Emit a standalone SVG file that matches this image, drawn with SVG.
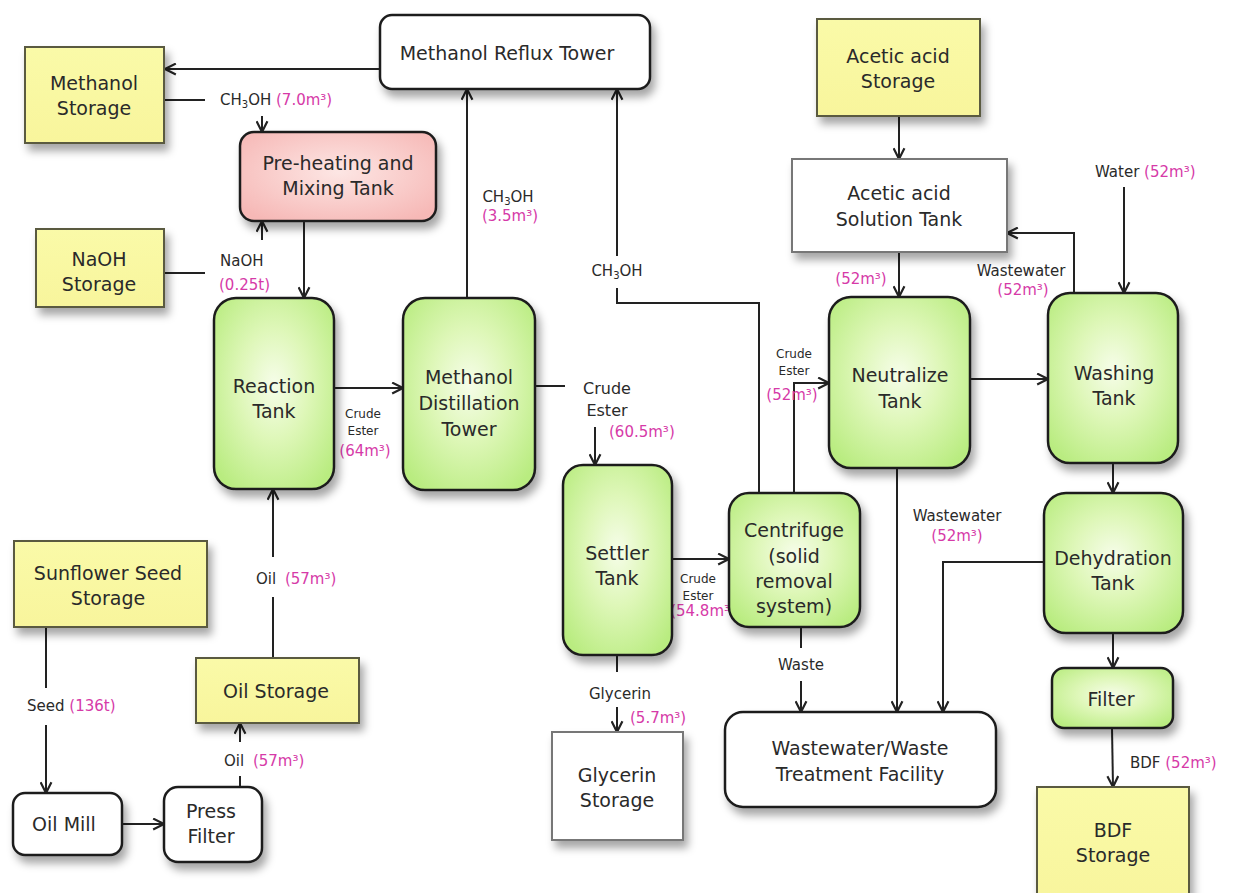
<svg xmlns="http://www.w3.org/2000/svg" width="1237" height="893" viewBox="0 0 1237 893">
<defs>
<style>
text{font-family:"DejaVu Sans","Liberation Sans",sans-serif;fill:#2a2a2a;text-anchor:middle}
.n{font-size:19px}
.l{font-size:15px}
.s{font-size:12px}
.m{fill:#d63aa8}
.st{text-anchor:start}
.sb{font-size:10px;baseline-shift:-3px}
.g{fill:url(#gG);stroke:#1e1e1e;stroke-width:2.5}
.y{fill:url(#yG);stroke:#5a5a40;stroke-width:2}
.w{fill:#fff;stroke:#1e1e1e;stroke-width:2.5}
.wg{fill:#fff;stroke:#777;stroke-width:2}
.p{fill:url(#pG);stroke:#1e1e1e;stroke-width:2.5}
.c path{fill:none;stroke:#222;stroke-width:2}
.a{marker-end:url(#ah)}
</style>
<radialGradient id="gG" cx="50%" cy="45%" r="65%">
<stop offset="0" stop-color="#f6fde9"/>
<stop offset="0.45" stop-color="#def7b8"/>
<stop offset="1" stop-color="#b9ec80"/>
</radialGradient>
<radialGradient id="pG" cx="50%" cy="45%" r="65%">
<stop offset="0" stop-color="#fde6e4"/>
<stop offset="1" stop-color="#f6b8b6"/>
</radialGradient>
<linearGradient id="yG" x1="0" y1="0" x2="0" y2="1">
<stop offset="0" stop-color="#fafaa8"/>
<stop offset="1" stop-color="#f8f59c"/>
</linearGradient>
<filter id="sh" x="-20%" y="-20%" width="150%" height="150%">
<feDropShadow dx="4" dy="7" stdDeviation="4" flood-color="#000" flood-opacity="0.35"/>
</filter>
<marker id="ah" viewBox="0 0 12 12" refX="11" refY="6" markerWidth="13" markerHeight="13" markerUnits="userSpaceOnUse" orient="auto">
<path d="M1,1 L11,6 L1,11" fill="none" stroke="#222" stroke-width="2"/>
</marker>
</defs>
<rect width="1237" height="893" fill="#fff"/>

<g id="connectors" class="c">
<path class="a" d="M380,69 L165,69"/>
<path d="M164,100 L205,100"/>
<path class="a" d="M262,116 L262,132"/>
<path d="M164,273 L205,273"/>
<path class="a" d="M262,240 L262,221"/>
<path class="a" d="M304,221 L304,298"/>
<path class="a" d="M334,388 L403,388"/>
<path class="a" d="M467,298 L467,89"/>
<path d="M535,386 L565,386"/>
<path class="a" d="M595,427 L595,465"/>
<path d="M759,493 L759,303 L617,303 L617,288"/>
<path class="a" d="M617,256 L617,89"/>
<path class="a" d="M794,493 L794,383 L829,383"/>
<path class="a" d="M672,559 L729,559"/>
<path d="M617,655 L617,672"/>
<path class="a" d="M617,707 L617,732"/>
<path d="M801,627 L801,648"/>
<path class="a" d="M801,681 L801,712"/>
<path class="a" d="M897,468 L897,712"/>
<path class="a" d="M1044,562 L943,562 L943,712"/>
<path class="a" d="M970,379 L1048,379"/>
<path class="a" d="M899,116 L899,159"/>
<path class="a" d="M899,252 L899,297"/>
<path class="a" d="M1074,293 L1074,233 L1007,233"/>
<path class="a" d="M1124,187 L1124,293"/>
<path class="a" d="M1113,463 L1113,493"/>
<path class="a" d="M1113,633 L1113,668"/>
<path class="a" d="M1112,728 L1113,787"/>
<path d="M46,627 L46,688"/>
<path class="a" d="M46,725 L46,793"/>
<path class="a" d="M122,824 L164,824"/>
<path d="M240,787 L240,776"/>
<path class="a" d="M240,742 L240,723"/>
<path d="M273,658 L273,597"/>
<path class="a" d="M273,557 L273,489"/>
</g>

<g id="labels">
<text class="l st" x="220" y="105">CH<tspan class="sb">3</tspan>OH <tspan class="m">(7.0m³)</tspan></text>
<text class="l st" x="220" y="266">NaOH</text>
<text class="l st m" x="219" y="290">(0.25t)</text>
<text class="l" x="508" y="202">CH<tspan class="sb">3</tspan>OH</text>
<text class="l m" x="510" y="221">(3.5m³)</text>
<text class="l" x="617" y="276">CH<tspan class="sb">3</tspan>OH</text>
<text class="s" x="363" y="418">Crude</text>
<text class="s" x="363" y="435">Ester</text>
<text class="l m" x="365" y="456">(64m³)</text>
<text class="n" x="607" y="394" style="font-size:16px">Crude</text>
<text class="n" x="607" y="416" style="font-size:16px">Ester</text>
<text class="l m st" x="609" y="437">(60.5m³)</text>
<text class="s" x="794" y="358">Crude</text>
<text class="s" x="794" y="375">Ester</text>
<text class="l m" x="792" y="400">(52m³)</text>
<text class="l m" x="861" y="284">(52m³)</text>
<text class="l" x="1021" y="276">Wastewater</text>
<text class="l m" x="1023" y="295">(52m³)</text>
<text class="l st" x="1095" y="177">Water <tspan class="m">(52m³)</tspan></text>
<text class="l" x="957" y="521">Wastewater</text>
<text class="l m" x="957" y="541">(52m³)</text>
<text class="s" x="698" y="583">Crude</text>
<text class="s" x="698" y="600">Ester</text>
<text class="l m" x="703" y="616">(54.8m³)</text>
<text class="l" x="801" y="670">Waste</text>
<text class="l" x="620" y="699">Glycerin</text>
<text class="l m st" x="630" y="723">(5.7m³)</text>
<text class="l st" x="27" y="711">Seed <tspan class="m">(136t)</tspan></text>
<text class="l st" x="256" y="584">Oil <tspan class="m" dx="4">(57m³)</tspan></text>
<text class="l st" x="224" y="766">Oil <tspan class="m" dx="4">(57m³)</tspan></text>
<text class="l st" x="1130" y="768">BDF <tspan class="m">(52m³)</tspan></text>
</g>

<g id="methanol-storage"><rect class="y" filter="url(#sh)" x="25" y="47" width="139" height="96"/><text class="n" x="94" y="90">Methanol</text><text class="n" x="94" y="115">Storage</text></g>
<g id="methanol-reflux-tower"><rect class="w" filter="url(#sh)" x="380" y="15" width="270" height="74" rx="12"/><text class="n" x="507" y="60">Methanol Reflux Tower</text></g>
<g id="preheating-tank"><rect class="p" filter="url(#sh)" x="240" y="132" width="196" height="89" rx="14"/><text class="n" x="338" y="170">Pre-heating and</text><text class="n" x="338" y="195">Mixing Tank</text></g>
<g id="naoh-storage"><rect class="y" filter="url(#sh)" x="36" y="229" width="128" height="78"/><text class="n" x="99" y="266">NaOH</text><text class="n" x="99" y="291">Storage</text></g>
<g id="reaction-tank"><rect class="g" filter="url(#sh)" x="214" y="298" width="120" height="191" rx="22"/><text class="n" x="274" y="393">Reaction</text><text class="n" x="274" y="418">Tank</text></g>
<g id="distillation-tower"><rect class="g" filter="url(#sh)" x="403" y="298" width="132" height="192" rx="22"/><text class="n" x="469" y="384">Methanol</text><text class="n" x="469" y="410">Distillation</text><text class="n" x="469" y="436">Tower</text></g>
<g id="settler-tank"><rect class="g" filter="url(#sh)" x="563" y="465" width="109" height="190" rx="20"/><text class="n" x="617" y="560">Settler</text><text class="n" x="617" y="585">Tank</text></g>
<g id="centrifuge"><rect class="g" filter="url(#sh)" x="729" y="493" width="131" height="134" rx="20"/><text class="n" x="794" y="537">Centrifuge</text><text class="n" x="794" y="563">(solid</text><text class="n" x="794" y="588">removal</text><text class="n" x="794" y="613">system)</text></g>
<g id="neutralize-tank"><rect class="g" filter="url(#sh)" x="829" y="297" width="141" height="171" rx="22"/><text class="n" x="900" y="382">Neutralize</text><text class="n" x="900" y="408">Tank</text></g>
<g id="washing-tank"><rect class="g" filter="url(#sh)" x="1048" y="293" width="130" height="170" rx="22"/><text class="n" x="1114" y="380">Washing</text><text class="n" x="1114" y="405">Tank</text></g>
<g id="dehydration-tank"><rect class="g" filter="url(#sh)" x="1044" y="493" width="139" height="140" rx="22"/><text class="n" x="1113" y="565">Dehydration</text><text class="n" x="1113" y="590">Tank</text></g>
<g id="filter"><rect class="g" filter="url(#sh)" x="1052" y="668" width="121" height="60" rx="12"/><text class="n" x="1111" y="706">Filter</text></g>
<g id="bdf-storage"><rect class="y" filter="url(#sh)" x="1037" y="787" width="152" height="120"/><text class="n" x="1113" y="837">BDF</text><text class="n" x="1113" y="862">Storage</text></g>
<g id="wwtf"><rect class="w" filter="url(#sh)" x="725" y="712" width="271" height="95" rx="18"/><text class="n" x="860" y="755">Wastewater/Waste</text><text class="n" x="860" y="781">Treatment Facility</text></g>
<g id="glycerin-storage"><rect class="wg" filter="url(#sh)" x="552" y="732" width="131" height="108"/><text class="n" x="617" y="782">Glycerin</text><text class="n" x="617" y="807">Storage</text></g>
<g id="acetic-acid-storage"><rect class="y" filter="url(#sh)" x="817" y="19" width="163" height="97"/><text class="n" x="898" y="63">Acetic acid</text><text class="n" x="898" y="88">Storage</text></g>
<g id="acetic-acid-solution-tank"><rect class="wg" filter="url(#sh)" x="792" y="159" width="215" height="93"/><text class="n" x="899" y="200">Acetic acid</text><text class="n" x="899" y="226">Solution Tank</text></g>
<g id="sunflower-seed-storage"><rect class="y" filter="url(#sh)" x="14" y="541" width="193" height="86"/><text class="n" x="108" y="580">Sunflower Seed</text><text class="n" x="108" y="605">Storage</text></g>
<g id="oil-storage"><rect class="y" filter="url(#sh)" x="196" y="658" width="163" height="65"/><text class="n" x="276" y="698">Oil Storage</text></g>
<g id="oil-mill"><rect class="w" filter="url(#sh)" x="13" y="793" width="109" height="62" rx="12"/><text class="n" x="64" y="831">Oil Mill</text></g>
<g id="press-filter"><rect class="w" filter="url(#sh)" x="164" y="787" width="98" height="75" rx="14"/><text class="n" x="211" y="818">Press</text><text class="n" x="211" y="843">Filter</text></g>
</svg>
